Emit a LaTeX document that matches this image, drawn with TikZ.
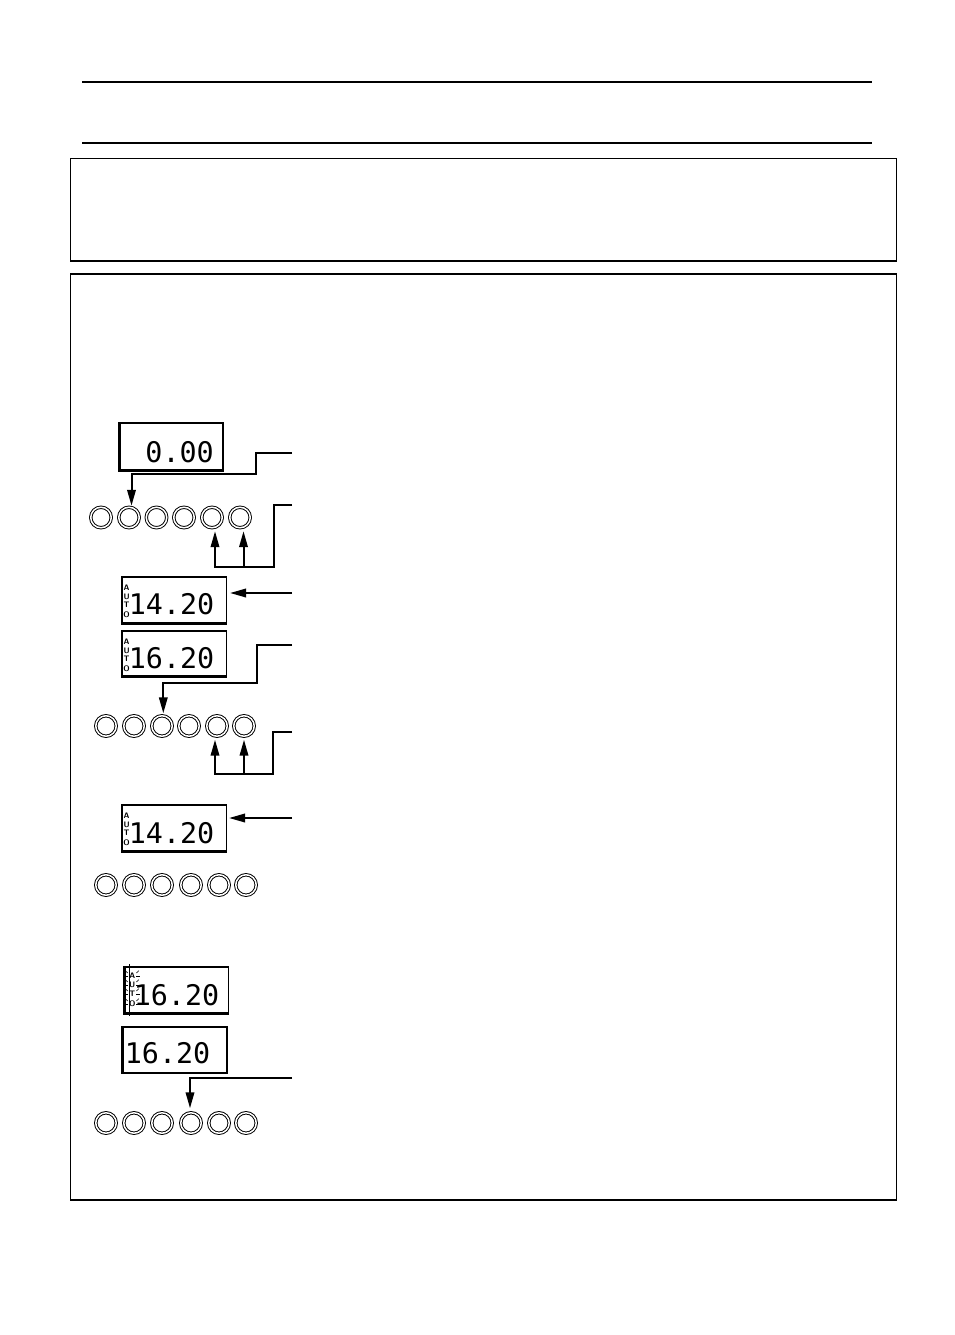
\documentclass[tikz,border=0pt]{standalone}
\usepackage{fontspec}
\newfontfamily\lcdfont{DejaVu Sans Mono}
\usetikzlibrary{arrows.meta}
\tikzset{
  frame/.style={draw, line width=1.5},
  rule/.style={line width=2},
  disp/.style={draw, line width=1.1, inner sep=0, minimum width=104pt, minimum height=46pt},
  digits/.style={anchor=base, inner sep=0, font=\lcdfont\fontsize{28.4}{30}\selectfont},
  autol/.style={inner sep=0, font=\sffamily\bfseries\fontsize{8}{8}\selectfont},
  btn/.style={circle, draw=black, double=white, double distance=1.5pt, line width=0.95, minimum size=20.5pt, inner sep=0},
  arr/.style={line width=2, -{Triangle[length=16pt,width=8.5pt]}},
  ray/.style={line width=0.6}
}
\newcommand{\shadowbox}[1]{\draw[line width=2] (#1.north west) -- (#1.south west) -- (#1.south east);}
\newcommand{\autoword}[3]{% name, x, top y
  \node[autol] (#1a) at (#2,#3+10.5) {A};
  \node[autol] (#1u) at (#2,#3+19.5) {U};
  \node[autol] (#1t) at (#2,#3+28) {T};
  \node[autol] (#1o) at (#2,#3+37.5) {O};
}
\begin{document}
\begin{tikzpicture}[x=1pt,y=-1pt]
\useasboundingbox (0,0) rectangle (954,1335);

% header rules and frames
\draw[rule] (82,82) -- (872,82);
\draw[rule] (82,143) -- (872,143);
\draw[frame] (70.5,158.5) rectangle (896.5,261);
\draw[frame] (70.5,274) rectangle (896.5,1200);

% displays
\node[disp, minimum width=103pt, minimum height=47pt] (d1) at (171.5,446.5) {};
\shadowbox{d1}
\node[digits] (d1t) at (179.6,462) {0.00};

\node[disp] (d2) at (174.5,600) {};
\shadowbox{d2}
\autoword{d2}{126.6}{577}
\node[digits] (d2t) at (171.6,614) {14.20};

\node[disp, minimum height=45pt] (d3) at (174.5,653.5) {};
\shadowbox{d3}
\autoword{d3}{126.6}{631}
\node[digits] (d3t) at (171.6,668) {16.20};

\node[disp] (d4) at (174.5,828) {};
\shadowbox{d4}
\autoword{d4}{126.6}{805}
\node[digits] (d4t) at (171.6,843) {14.20};

\node[disp, minimum width=103.5pt] (d5) at (176.75,990) {};
\shadowbox{d5}
\node[autol] (d5a) at (132.2,975.5) {A};
\node[autol] (d5u) at (132.2,984.5) {U};
\node[autol] (d5t) at (132.2,993.5) {T};
\node[autol] (d5o) at (132.2,1003.5) {O};
\node[digits] (d5d) at (176.5,1005) {16.20};
\draw[ray] (129,964) -- (129,1016);
\foreach \yy in {975.5,984.5,993.5,1003.5}{
  \draw[ray] (125,\yy+1) -- (128,\yy+1);
  \draw[ray] (125.5,\yy-4.5) -- (127.8,\yy-2.5);
  \draw[ray] (136.4,\yy+1) -- (139.5,\yy+1);
  \draw[ray] (136.4,\yy-2.5) -- (138.8,\yy-4.8);
}

\node[disp, minimum height=45.5pt] (d6) at (175,1049.75) {};
\shadowbox{d6}
\node[digits] (d6t) at (167.6,1063) {16.20};

% button rows
\foreach \i/\x in {1/101,2/129,3/156.5,4/184,5/212,6/240}
  \node[btn] (b1\i) at (\x,517.5) {};
\foreach \i/\x in {1/106,2/134,3/162,4/189,5/217,6/244}
  \node[btn] (b2\i) at (\x,726) {};
\foreach \i/\x in {1/106,2/134,3/162,4/191,5/219,6/246}
  \node[btn] (b3\i) at (\x,885) {};
\foreach \i/\x in {1/106,2/134,3/162,4/191,5/219,6/246}
  \node[btn] (b4\i) at (\x,1123) {};

% connectors
\coordinate (s1) at (292,453);
\coordinate (s2) at (292,505);
\coordinate (s3) at (292,593);
\coordinate (s4) at (292,645);
\coordinate (s5) at (292,732);
\coordinate (s6) at (292,818);
\coordinate (s7) at (292,1078);

\draw[arr, shorten >=1pt] (s1) -- (256,453) -- (256,473.5) -| ([xshift=2.5pt]b12.north);
\draw[arr, shorten >=3pt] (s2) -| (273.5,567) -| ([xshift=3pt]b15.south);
\draw[arr, shorten >=3pt] (243.5,567) -- ([xshift=3.5pt]b16.south);
\draw[arr, shorten >=3pt] (s3) -- (d2.east |- s3);
\draw[arr, shorten >=2pt] (s4) -- (256.5,645) -- (256.5,683) -| ([xshift=1.3pt]b23.north);
\draw[arr, shorten >=3pt] (s5) -| (272.7,774) -| ([xshift=-2pt]b25.south);
\draw[arr, shorten >=3pt] (244,774) -- ([xshift=0pt]b26.south);
\draw[arr, shorten >=2pt] (s6) -- (d4.east |- s6);
\draw[arr, shorten >=4pt] (s7) -| ([xshift=-1pt]b44.north);
\end{tikzpicture}
\end{document}
